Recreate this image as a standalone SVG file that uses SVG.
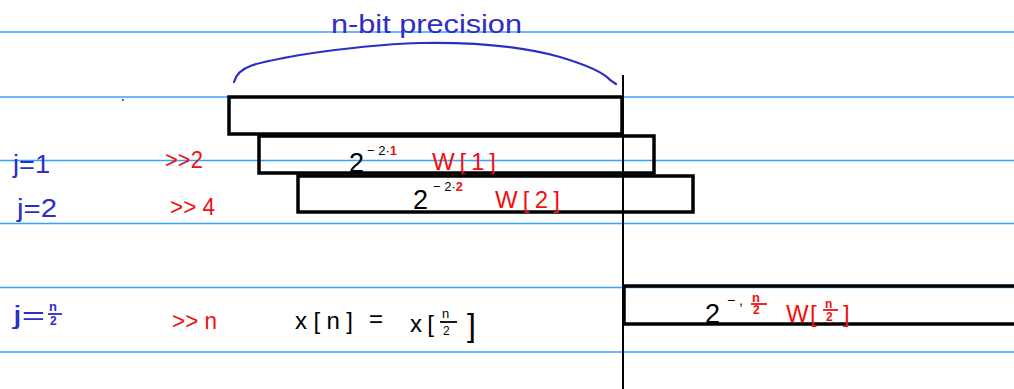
<svg xmlns="http://www.w3.org/2000/svg" width="1014" height="389" viewBox="0 0 1014 389">
<style>
.rule{stroke:#36a2ff;stroke-width:1.6}
.box{fill:none;stroke:#000;stroke-width:3.5}
.t{font-family:"Liberation Sans",Arial,sans-serif}
.blue{fill:#2e2ec4}
.red{fill:#f01010}
.blk{fill:#000}
.fl{stroke-width:1.8}
</style>
<rect width="1014" height="389" fill="#fff"/>
<g id="rules">
<line class="rule" x1="0" y1="32" x2="1014" y2="32"/>
<line class="rule" x1="0" y1="97" x2="1014" y2="97"/>
<line class="rule" x1="0" y1="160.5" x2="1014" y2="160.5"/>
<line class="rule" x1="0" y1="223.5" x2="1014" y2="223.5"/>
<line class="rule" x1="0" y1="287.5" x2="1014" y2="287.5"/>
<line class="rule" x1="0" y1="352" x2="1014" y2="352"/>
</g>
<circle cx="123" cy="100" r="1" fill="#333"/>
<g id="brace">
<path d="M234,82 C238,66 255,63 300,55 C345,48 385,44 420,43 C470,42 520,46 560,57 C590,66 605,74 610,80 L616,84" fill="none" stroke="#2e2ec4" stroke-width="2.2" stroke-linecap="round"/>
<text class="t blue" x="331" y="33" font-size="26" textLength="191" lengthAdjust="spacingAndGlyphs">n-bit  precision</text>
</g>
<g id="connectors">
<line x1="623" y1="75" x2="623" y2="389" stroke="#000" stroke-width="2"/>
</g>
<g id="block0"><rect class="box" x="229" y="97" width="393" height="37"/></g>
<g id="block1">
<rect class="box" x="259" y="136" width="395" height="37"/>
<text class="t blk" x="349" y="172" font-size="27">2</text>
<text class="t blk" x="367" y="155" font-size="13">− 2·<tspan class="red" font-weight="bold">1</tspan></text>
<text class="t red" x="432" y="170" font-size="24" textLength="64" lengthAdjust="spacing">W[1]</text>
</g>
<g id="block2">
<rect class="box" x="298" y="176" width="395" height="36"/>
<text class="t blk" x="413" y="209" font-size="27">2</text>
<text class="t blk" x="433" y="191" font-size="13">− 2·<tspan class="red" font-weight="bold">2</tspan></text>
<text class="t red" x="495" y="208" font-size="24" textLength="65" lengthAdjust="spacing">W[2]</text>
</g>
<g id="block3">
<rect class="box" x="624" y="286" width="400" height="38"/>
<text class="t blk" x="705" y="323" font-size="27">2</text>
<text class="t blk" x="727" y="305" font-size="14">− ,</text>
<text class="t red" x="752" y="302" font-size="13" font-weight="bold">n</text>
<line x1="751" y1="304" x2="767" y2="304" stroke="#f01010" class="fl"/>
<text class="t red" x="753" y="314" font-size="12" font-weight="bold">2</text>
<text class="t red" x="786" y="322" font-size="24">W</text>
<text class="t red" x="810" y="322" font-size="24">[</text>
<text class="t red" x="825" y="308" font-size="12" font-weight="bold">n</text>
<line x1="823" y1="310" x2="838" y2="310" stroke="#f01010" class="fl"/>
<text class="t red" x="826" y="321" font-size="12" font-weight="bold">2</text>
<text class="t red" x="843" y="322" font-size="24">]</text>
</g>
<g id="row1">
<text class="t blue" x="13" y="173" font-size="26" textLength="37" lengthAdjust="spacingAndGlyphs">j=1</text>
<text class="t red" x="165" y="168" font-size="24" textLength="38" lengthAdjust="spacingAndGlyphs">&gt;&gt;2</text>
</g>
<g id="row2">
<text class="t blue" x="17" y="217" font-size="26" textLength="40" lengthAdjust="spacingAndGlyphs">j=2</text>
<text class="t red" x="170" y="215" font-size="24" textLength="45" lengthAdjust="spacingAndGlyphs">&gt;&gt; 4</text>
</g>
<g id="row3">
<text class="t blue" x="13" y="324" font-size="26" textLength="32" lengthAdjust="spacingAndGlyphs">j=</text>
<text class="t blue" x="49" y="311" font-size="13" font-weight="bold">n</text>
<line x1="48" y1="314" x2="62" y2="314" stroke="#2e2ec4" class="fl"/>
<text class="t blue" x="50" y="325" font-size="12" font-weight="bold">2</text>
<text class="t red" x="172" y="329" font-size="24" textLength="45" lengthAdjust="spacingAndGlyphs">&gt;&gt; n</text>
<text class="t blk" x="295" y="329" font-size="24" textLength="58" lengthAdjust="spacing">x[n]</text>
<text class="t blk" x="369" y="327" font-size="24">=</text>
<text class="t blk" x="410" y="332" font-size="24" textLength="24" lengthAdjust="spacing">x[</text>
<text class="t blk" x="442" y="318" font-size="13">n</text>
<line x1="440" y1="322" x2="457" y2="322" stroke="#000" class="fl"/>
<text class="t blk" x="443" y="335" font-size="12">2</text>
<text class="t blk" x="467" y="336" font-size="32">]</text>
</g>
</svg>
